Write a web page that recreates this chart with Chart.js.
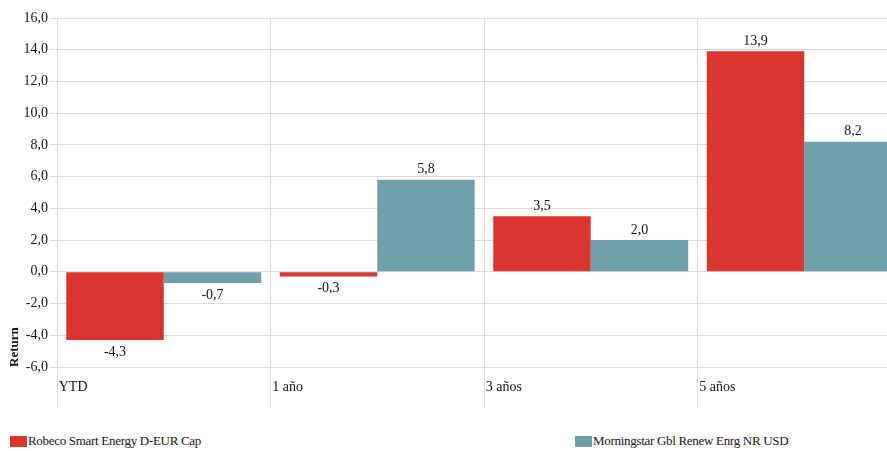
<!DOCTYPE html>
<html>
<head>
<meta charset="utf-8">
<script src="https://cdn.jsdelivr.net/npm/chart.js@4.4.1/dist/chart.umd.min.js"></script>
<style>
    html, body { margin: 0; padding: 0; background: #fff; overflow: hidden; width: 887px; height: 451px; }
    #wrap { position: absolute; left: 0; top: 0; width: 912px; height: 415px; }
    .legend-item { position: absolute; top: 433px; display: flex; align-items: center; font: 13px "Liberation Serif", serif; letter-spacing: -0.3px; color: #151515; white-space: nowrap; }
    .legend-item i { display: inline-block; width: 17px; height: 11px; margin-right: 1px; }
</style>
</head>
<body>
<div id="wrap"><canvas id="chart"></canvas></div>
<div id="legend"></div>
<script>
const categories = ['YTD', '1 año', '3 años', '5 años'];
const seriesNames = ['Robeco Smart Energy D-EUR Cap', 'Morningstar Gbl Renew Enrg NR USD'];
const robecoValues = [-4.3, -0.3, 3.5, 13.9];
const benchmarkValues = [-0.7, 5.8, 2.0, 8.2];
const seriesColors = ['#da3631', '#719fa9'];
const legendLeft = [10, 575];

const serif = '"Liberation Serif", "DejaVu Serif", serif';
const gridColor = '#dcdcdc';
const textColor = '#151515';

const fmt = (v) => v.toFixed(1).replace('.', ',');

const valueLabels = {
    id: 'valueLabels',
    afterDatasetsDraw(chart) {
        const ctx = chart.ctx;
        ctx.save();
        ctx.font = '14px ' + serif;
        ctx.fillStyle = textColor;
        ctx.textAlign = 'center';
        chart.data.datasets.forEach((ds, i) => {
            chart.getDatasetMeta(i).data.forEach((bar, j) => {
                const v = ds.data[j];
                if (v >= 0) {
                    ctx.textBaseline = 'bottom';
                    ctx.fillText(fmt(v), bar.x, bar.y - 3);
                } else {
                    ctx.textBaseline = 'top';
                    ctx.fillText(fmt(v), bar.x, bar.y + 5);
                }
            });
        });
        ctx.restore();
    },
};

new Chart(document.getElementById('chart'), {
    type: 'bar',
    data: {
        labels: categories,
        datasets: [
            { label: seriesNames[0], data: robecoValues, backgroundColor: seriesColors[0] },
            { label: seriesNames[1], data: benchmarkValues, backgroundColor: seriesColors[1] },
        ],
    },
    options: {
        responsive: true,
        maintainAspectRatio: false,
        animation: false,
        categoryPercentage: 0.913,
        barPercentage: 1,
        layout: { padding: { top: 18, right: 1, left: 0, bottom: 0 } },
        plugins: {
            legend: { display: false },
            tooltip: { enabled: false },
        },
        scales: {
            x: {
                border: { display: false },
                grid: { display: true, offset: true, color: gridColor, tickLength: 41 },
                ticks: {
                    align: 'start',
                    labelOffset: -105,
                    padding: -29,
                    color: textColor,
                    font: { family: serif, size: 14 },
                    maxRotation: 0,
                },
                afterFit(scale) { scale.height = 48; },
            },
            y: {
                min: -6,
                max: 16,
                border: { display: false },
                grid: { color: gridColor, tickLength: 7 },
                ticks: {
                    stepSize: 2,
                    padding: 2,
                    color: textColor,
                    font: { family: serif, size: 14 },
                    callback: (v) => fmt(v),
                },
                title: {
                    display: true,
                    text: 'Return',
                    align: 'start',
                    color: textColor,
                    font: { family: serif, size: 13, weight: 'bold' },
                    padding: { top: 7, bottom: 0 },
                },
                afterFit(scale) { scale.width = 57; },
            },
        },
    },
    plugins: [valueLabels],
});

const legend = document.getElementById('legend');
seriesNames.forEach((name, i) => {
    const item = document.createElement('div');
    item.className = 'legend-item';
    item.style.left = legendLeft[i] + 'px';
    const box = document.createElement('i');
    box.style.background = seriesColors[i];
    item.appendChild(box);
    item.appendChild(document.createTextNode(name));
    legend.appendChild(item);
});
</script>
</body>
</html>
